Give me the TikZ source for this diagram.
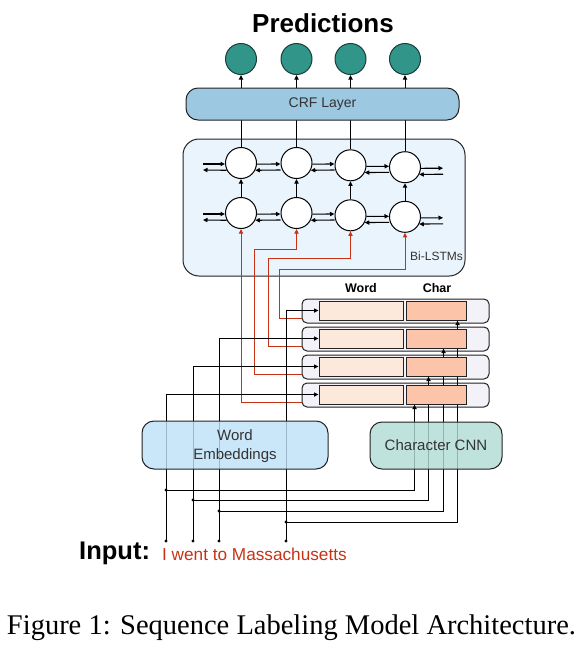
\documentclass[tikz,border=0pt]{standalone}
\usepackage{fontspec}
\setmainfont{Liberation Sans}
\newfontfamily\capfont{Liberation Serif}
\usetikzlibrary{arrows.meta,calc}
\pgfdeclarelayer{back}
\pgfdeclarelayer{mid}
\pgfsetlayers{back,mid,main}
\definecolor{predfill}{HTML}{31958A}
\definecolor{predline}{HTML}{1B3D39}
\definecolor{crffill}{HTML}{9DC8E1}
\definecolor{lstmfill}{HTML}{EAF4FC}
\definecolor{wefill}{HTML}{BEE0F8}
\definecolor{cnnfill}{HTML}{B2DCD6}
\definecolor{rowfill}{HTML}{F3F2F8}
\definecolor{wordfill}{HTML}{FDE8DC}
\definecolor{charfill}{HTML}{FCC5AA}
\definecolor{redline}{HTML}{C83214}
\definecolor{txtgray}{HTML}{333333}
\definecolor{edge}{HTML}{222222}
\begin{document}
\begin{tikzpicture}[x=1pt,y=-1pt,
  tip/.style={-{Triangle[length=4.5pt,width=4.2pt]}},
  ln/.style={line width=1pt,draw=black},
  redln/.style={line width=1pt,draw=redline,-{Triangle[length=4.5pt,width=4.2pt]}},
  lstmc/.style={circle,draw=black,line width=1pt,fill=white,minimum size=31pt,inner sep=0pt},
  predc/.style={circle,draw=predline,line width=1pt,fill=predfill,minimum size=31pt,inner sep=0pt},
  rbox/.style={rectangle,rounded corners=#1,draw=edge,line width=1pt,inner sep=0pt},
  rbox/.default=10pt,
  rowbox/.style={rectangle,rounded corners=5pt,draw=edge,line width=1pt,fill=rowfill,minimum width=187pt,minimum height=24pt,inner sep=0pt},
  wordbox/.style={rectangle,draw=edge,line width=1pt,fill=wordfill,minimum width=84pt,minimum height=19pt,inner sep=0pt},
  charbox/.style={rectangle,draw=edge,line width=1pt,fill=charfill,minimum width=60pt,minimum height=19pt,inner sep=0pt},
  dotn/.style={circle,fill=black,inner sep=0pt,minimum size=3.4pt},
  lbl/.style={inner sep=0pt,text=txtgray}]
\useasboundingbox (0,0) rectangle (583,659);

% title
\node[inner sep=0pt,font=\fontsize{26}{30}\selectfont\bfseries] (title) at (323,23) {Predictions};

% prediction circles
\node[predc] (p1) at (241,59) {};
\node[predc] (p2) at (296.5,59) {};
\node[predc] (p3) at (350.5,59) {};
\node[predc] (p4) at (405,59) {};

% CRF layer
\node[rbox=12pt,fill=crffill,minimum width=273pt,minimum height=32pt] (crf) at (322.5,104) {};
\node[lbl,font=\fontsize{14}{16}\selectfont] (crft) at (322.5,104.5) {CRF Layer};

% LSTM box
\begin{pgfonlayer}{back}
\node[rbox=16pt,fill=lstmfill,minimum width=282pt,minimum height=137pt] (lstmbox) at (324,207.5) {};
\end{pgfonlayer}
\node[lbl,anchor=west,font=\fontsize{12}{14}\selectfont] (bilstm) at (410,256) {Bi-LSTMs};

% LSTM cells
\node[lstmc] (u1) at (241,163) {};
\node[lstmc] (u2) at (296.5,163) {};
\node[lstmc] (u3) at (350.5,165.3) {};
\node[lstmc] (u4) at (405,167.2) {};
\node[lstmc] (l1) at (241,213) {};
\node[lstmc] (l2) at (296.5,213) {};
\node[lstmc] (l3) at (350.5,215.3) {};
\node[lstmc] (l4) at (405,216.8) {};

% rows
\begin{pgfonlayer}{back}
\node[rowbox] (r1) at (395.5,311) {};
\node[rowbox] (r2) at (395.5,339) {};
\node[rowbox] (r3) at (395.5,367) {};
\node[rowbox] (r4) at (395.5,395) {};
\end{pgfonlayer}
\node[wordbox] (w1) at (361,310.5) {};
\node[wordbox] (w2) at (361,338.5) {};
\node[wordbox] (w3) at (361,366.5) {};
\node[wordbox] (w4) at (361,394.5) {};
\node[charbox] (c1) at (436,310.5) {};
\node[charbox] (c2) at (436,338.5) {};
\node[charbox] (c3) at (436,366.5) {};
\node[charbox] (c4) at (436,394.5) {};
\node[inner sep=0pt,font=\fontsize{12.5}{14}\selectfont\bfseries] (wordlbl) at (361,288) {Word};
\node[inner sep=0pt,font=\fontsize{12.5}{14}\selectfont\bfseries] (charlbl) at (437,288) {Char};

% embeddings boxes
\node[rbox=12pt,fill=wefill,fill opacity=0.82,minimum width=186pt,minimum height=48pt] (we) at (235,445) {};
\node[lbl,align=center,font=\fontsize{15}{19}\selectfont] (wet) at (235,446) {Word\\Embeddings};
\node[rbox=12pt,fill=cnnfill,fill opacity=0.82,minimum width=132pt,minimum height=47pt] (cnn) at (436,445.5) {};
\node[lbl,font=\fontsize{15}{17}\selectfont] (cnnt) at (436,445.5) {Character CNN};

% input dots and junctions
\node[dotn] (in1) at (166,541) {};
\node[dotn] (in2) at (193,541) {};
\node[dotn] (in3) at (219,541) {};
\node[dotn] (in4) at (286,541) {};
\node[dotn] (j1) at (166,490) {};
\node[dotn] (j2) at (193,500) {};
\node[dotn] (j3) at (219,511) {};
\node[dotn] (j4) at (286,522) {};

% input text
\node[inner sep=0pt,anchor=west,font=\fontsize{25.5}{28}\selectfont\bfseries] (inputlbl) at (79,553) {Input:};
\node[inner sep=0pt,anchor=west,text=redline,font=\fontsize{17.2}{19}\selectfont] (inputtxt) at (162,554) {I went to Massachusetts};

% caption
\node[inner sep=0pt,font=\capfont\fontsize{28.5}{32}\selectfont] (caption) at (291.5,628) {Figure 1: Sequence Labeling Model Architecture.};

\begin{pgfonlayer}{mid}
% LSTM -> predictions
\foreach \i in {1,...,4}{
  \draw[ln,tip] (u\i.north) -- (p\i.south);
  \draw[ln,tip] (l\i.north) -- (u\i.south);
}
% horizontal arrows
\foreach \r in {u,l}{
  \draw[ln,line width=1.1pt,tip] ([xshift=-22pt,yshift=-1pt]\r1.west) -- ([yshift=-1pt]\r1.west);
  \draw[ln,line width=1.1pt,tip] (\r1.-153) -- ([xshift=-22pt,yshift=-7pt]\r1.west);
  \foreach \i/\j in {1/2,2/3,3/4}{
    \draw[ln,line width=1.1pt,tip] (\r\i.-4) -- ([yshift=-1pt]\r\i.east -| \r\j.west);
    \draw[ln,line width=1.1pt,tip] ([yshift=-7pt]\r\i.east -| \r\j.west) -- (\r\i.-27);
  }
  \draw[ln,line width=1.1pt,tip] (\r4.-4) -- ([xshift=22pt,yshift=-1pt]\r4.east);
  \draw[ln,line width=1.1pt,tip] ([xshift=22pt,yshift=-7pt]\r4.east) -- (\r4.-27);
}
% red connectors rows -> lower LSTM cells
\draw[redln] ([yshift=-7pt]r4.west) -| (l1.south);
\draw[redln] ([yshift=-7pt]r3.west) -| (254,249) -| (l2.south);
\draw[redln] ([yshift=-7pt]r2.west) -| (268,258) -| (l3.south);
\draw[redln] ([yshift=-7pt]r1.west) -| (279,269) -| (l4.south);
% input -> word boxes
\draw[ln,tip] (in1.center) |- (w4.west);
\draw[ln,tip] (in2.center) |- (w3.west);
\draw[ln,tip] (in3.center) |- (w2.west);
\draw[ln,tip] (in4.center) |- (w1.west);
% junctions -> char boxes
\draw[ln,tip] (j1.center) -| ([xshift=9pt]c4.south west);
\draw[ln,tip] (j2.center) -| ([xshift=23pt]c3.south west);
\draw[ln,tip] (j3.center) -| ([xshift=38pt]c2.south west);
\draw[ln,tip] (j4.center) -| ([xshift=52pt]c1.south west);
\end{pgfonlayer}
\end{tikzpicture}
\end{document}
